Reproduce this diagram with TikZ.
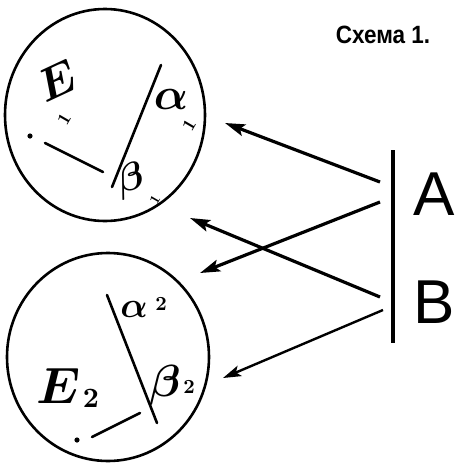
\documentclass[tikz,border=0pt]{standalone}
\usepackage{fontspec}
\setsansfont{Liberation Sans}
\usetikzlibrary{arrows.meta}
\tikzset{
  ring/.style={line width=2.6pt},
  stroke/.style={line width=2.6pt, line cap=round},
  thickarrow/.style={line width=3.2pt, -{Stealth[length=20pt,width=12pt,inset=4pt]}},
  thinarrow/.style={line width=2.4pt, -{Stealth[length=18pt,width=11pt,inset=4pt]}},
  hand/.style={inner sep=0pt, font=\boldmath},
  sub/.style={inner sep=0pt, font=\bfseries},
}
\begin{document}
\begin{tikzpicture}[x=1pt,y=-1pt]
\useasboundingbox[fill=white] (0,0) rectangle (456,464);
% circles
\draw[ring] (105,115) ellipse [x radius=100, y radius=106];
\draw[ring] (108,357) ellipse [x radius=101, y radius=104];
% circle 1 contents
\draw[stroke] (161,65) -- (112,187);
\fill (30,136) circle (2.6pt);
\draw[stroke] (45,143) -- (103,172);
\node[hand, rotate=25, scale=4.6] (e1) at (57,81) {$E$};
\node[sub, rotate=60, scale=1.8] (e1s) at (64,119) {1};
\node[hand, scale=4.5] (a1) at (171,99) {$\alpha$};
\node[sub, rotate=60, scale=1.8] (a1s) at (189,125) {1};
\node[hand, rotate=15, scale=3.9] (b1) at (131,181) {$\beta$};
\node[sub, rotate=60, scale=1.4] (b1s) at (155,200) {1};
% circle 2 contents
\draw[stroke] (107,295) -- (157,423);
\fill (77,440) circle (2.6pt);
\draw[stroke] (92,437) -- (140,413);
\node[hand, scale=3.6] (a2) at (134,309) {$\alpha$};
\node[sub, scale=2.0] (a2s) at (161,304) {2};
\node[hand, scale=5.1] (e2) at (59,386) {$E$};
\node[sub, scale=2.8] (e2s) at (91,398) {2};
\node[hand, scale=4.5] (b2) at (165,385) {$\beta$};
\node[sub, scale=2.0] (b2s) at (189,387) {2};
% bar and labels
\coordinate (bartop) at (393,150);
\coordinate (barbot) at (393,343);
\draw[line width=4pt] (bartop) -- (barbot);
\node[inner sep=0pt, font=\fontsize{62}{62}\sffamily] (A) at (434,194) {A};
\node[inner sep=0pt, font=\fontsize{62}{62}\sffamily] (B) at (434,302) {B};
\node[inner sep=0pt, xscale=0.9, font=\fontsize{25}{25}\sffamily\bfseries] (title) at (383,35) {Схема 1.};
% arrows
\coordinate (a1from) at (380,182);
\coordinate (a1to) at (225,123);
\coordinate (a2from) at (380,202);
\coordinate (a2to) at (200,273);
\coordinate (b1from) at (380,297);
\coordinate (b1to) at (190,218);
\coordinate (b2from) at (383,310);
\coordinate (b2to) at (223,378);
\draw[thickarrow] (a1from) -- (a1to);
\draw[thickarrow] (a2from) -- (a2to);
\draw[thickarrow] (b1from) -- (b1to);
\draw[thinarrow] (b2from) -- (b2to);
\end{tikzpicture}
\end{document}
